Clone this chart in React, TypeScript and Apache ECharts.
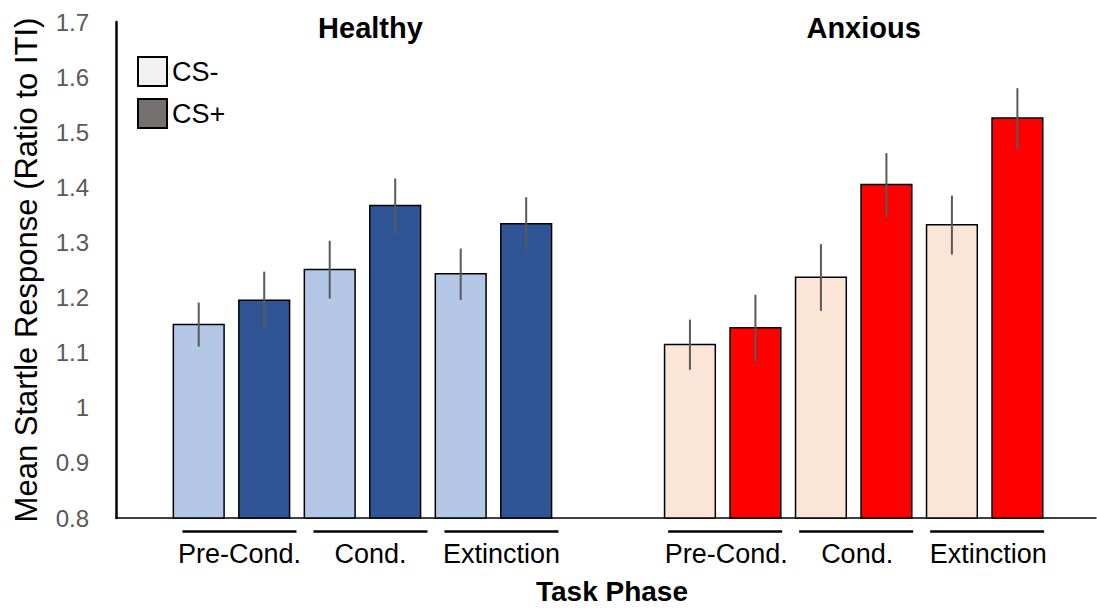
import React, { useEffect, useRef } from 'react';
import * as echarts from 'echarts';

const groups = ['Healthy', 'Anxious'];
const phases = ['Pre-Cond.', 'Cond.', 'Extinction'];
const conditions = ['CS-', 'CS+'];
const yTicks = [0.8, 0.9, 1, 1.1, 1.2, 1.3, 1.4, 1.5, 1.6, 1.7];

const healthyCSMinus = [1.151, 1.251, 1.243];
const healthyCSPlus = [1.195, 1.367, 1.334];
const anxiousCSMinus = [1.115, 1.237, 1.332];
const anxiousCSPlus = [1.145, 1.405, 1.526];

const healthyCSMinusErrLow = [1.111, 1.198, 1.196];
const healthyCSMinusErrHigh = [1.191, 1.303, 1.289];
const healthyCSPlusErrLow = [1.142, 1.316, 1.287];
const healthyCSPlusErrHigh = [1.247, 1.416, 1.382];
const anxiousCSMinusErrLow = [1.069, 1.176, 1.278];
const anxiousCSMinusErrHigh = [1.16, 1.297, 1.385];
const anxiousCSPlusErrLow = [1.085, 1.346, 1.468];
const anxiousCSPlusErrHigh = [1.205, 1.462, 1.58];

const barColors = [
  ['#B4C7E7', '#2F5597'],
  ['#FBE5D6', '#FF0000'],
];
const legendColors = ['#F2F2F2', '#767171'];

const FONT = '"Liberation Sans", Arial, Helvetica, sans-serif';
const Y_MIN = yTicks[0];
const Y_MAX = yTicks[yTicks.length - 1];
const GROUP_OFFSET = 7.5;
const BAR_W = 0.775;

const values = [
  [healthyCSMinus, healthyCSPlus],
  [anxiousCSMinus, anxiousCSPlus],
];
const errLow = [
  [healthyCSMinusErrLow, healthyCSPlusErrLow],
  [anxiousCSMinusErrLow, anxiousCSPlusErrLow],
];
const errHigh = [
  [healthyCSMinusErrHigh, healthyCSPlusErrHigh],
  [anxiousCSMinusErrHigh, anxiousCSPlusErrHigh],
];

const slot = (g: number, p: number, c: number) => 1 + g * GROUP_OFFSET + p * 2 + c;

export default function App() {
  const ref = useRef<HTMLDivElement>(null);

  useEffect(() => {
    if (!ref.current) return;
    const chart = echarts.init(ref.current, undefined, { renderer: 'svg' });

    const barData: number[][] = [];
    groups.forEach((_, g) => {
      phases.forEach((__, p) => {
        conditions.forEach((___, c) => {
          barData.push([slot(g, p, c), values[g][c][p], errLow[g][c][p], errHigh[g][c][p], g, c]);
        });
      });
    });

    const phaseData: number[][] = [];
    groups.forEach((_, g) => {
      phases.forEach((__, p) => {
        phaseData.push([slot(g, p, 0) + 0.5, g, p]);
      });
    });

    const groupData: number[][] = groups.map((_, g) => [slot(g, 0, 0) + 2.5, g]);

    const option: any = {
      animation: false,
      textStyle: { fontFamily: FONT },
      grid: { left: 116, right: 1, top: 22, bottom: 92, containLabel: false, outerBoundsMode: 'none' },
      legend: {
        orient: 'vertical',
        left: 137,
        top: 56,
        padding: 0,
        itemWidth: 29,
        itemHeight: 29,
        itemGap: 11,
        icon: 'rect',
        selectedMode: false,
        textStyle: { fontSize: 27, color: '#000', fontFamily: FONT },
        data: conditions.map((name, i) => ({
          name,
          itemStyle: { color: legendColors[i], borderColor: '#000', borderWidth: 2 },
        })),
      },
      xAxis: {
        type: 'value',
        min: -0.263,
        max: 14.7,
        axisLine: { show: true, onZero: false, lineStyle: { color: '#000', width: 1.5 } },
        axisTick: { show: false },
        axisLabel: { show: false },
        splitLine: { show: false },
        name: 'Task Phase',
        nameLocation: 'middle',
        nameGap: 59,
        nameTextStyle: { fontSize: 28, fontWeight: 'bold', color: '#000', fontFamily: FONT, padding: [0, 0, 0, 12] },
      },
      yAxis: {
        type: 'value',
        min: Y_MIN,
        max: Y_MAX,
        interval: 0.1,
        axisLine: { show: true, onZero: false, lineStyle: { color: '#000', width: 2.5 } },
        axisTick: { show: false },
        splitLine: { show: false },
        axisLabel: {
          color: '#595959',
          fontSize: 24,
          margin: 27,
          fontFamily: FONT,
          formatter: (v: number) => String(Math.round(v * 10) / 10),
        },
        name: 'Mean Startle Response (Ratio to ITI)',
        nameLocation: 'middle',
        nameGap: 74,
        nameRotate: 90,
        nameTextStyle: { fontSize: 31, color: '#000', fontFamily: FONT },
      },
      series: [
        {
          type: 'custom',
          name: 'bars',
          clip: false,
          data: barData,
          renderItem: (params: any, api: any) => {
            const x = api.value(0);
            const v = api.value(1);
            const top = api.coord([x, v]);
            const base = api.coord([x, Y_MIN]);
            const lo = api.coord([x, api.value(2)]);
            const hi = api.coord([x, api.value(3)]);
            const w = api.size([BAR_W, 0])[0];
            const color = barColors[api.value(4)][api.value(5)];
            return {
              type: 'group',
              children: [
                {
                  type: 'rect',
                  shape: { x: top[0] - w / 2, y: top[1], width: w, height: base[1] - top[1] },
                  style: { fill: color, stroke: '#000', lineWidth: 1.5 },
                },
                {
                  type: 'line',
                  shape: { x1: lo[0], y1: lo[1], x2: hi[0], y2: hi[1] },
                  style: { stroke: '#595959', lineWidth: 2 },
                },
              ],
            };
          },
        },
        {
          type: 'custom',
          name: 'phases',
          clip: false,
          data: phaseData,
          renderItem: (params: any, api: any) => {
            const x = api.value(0);
            const g = api.value(1);
            const p = api.value(2);
            const pt = api.coord([x, Y_MIN]);
            const dx = g === 0 ? 8 : 2.5;
            const cx = pt[0] + dx;
            return {
              type: 'group',
              children: [
                {
                  type: 'line',
                  shape: { x1: cx - 57, y1: pt[1] + 13.5, x2: cx + 57, y2: pt[1] + 13.5 },
                  style: { stroke: '#000', lineWidth: 2.5 },
                },
                {
                  type: 'text',
                  style: {
                    x: cx + (g === 0 ? 0 : 1),
                    y: pt[1] + 36,
                    text: phases[p],
                    fill: '#000',
                    fontSize: 27,
                    fontFamily: FONT,
                    align: 'center',
                    verticalAlign: 'middle',
                  },
                },
              ],
            };
          },
        },
        {
          type: 'custom',
          name: 'groups',
          clip: false,
          data: groupData,
          renderItem: (params: any, api: any) => {
            const x = api.value(0);
            const g = api.value(1);
            const pt = api.coord([x, Y_MAX]);
            return {
              type: 'text',
              style: {
                x: pt[0] + (g === 0 ? 8 : 10),
                y: pt[1] + 6,
                text: groups[g],
                fill: '#000',
                fontSize: 29,
                fontWeight: 'bold',
                fontFamily: FONT,
                align: 'center',
                verticalAlign: 'middle',
              },
            };
          },
        },
        ...conditions.map((name, i) => ({
          type: 'custom',
          name,
          data: [],
          itemStyle: { color: legendColors[i] },
          renderItem: () => null,
        })),
      ],
    };

    chart.setOption(option);
    return () => chart.dispose();
  }, []);

  return (
    <div
      ref={ref}
      style={{ position: 'fixed', left: 0, top: 0, width: 1097, height: 610, background: '#fff' }}
    />
  );
}
